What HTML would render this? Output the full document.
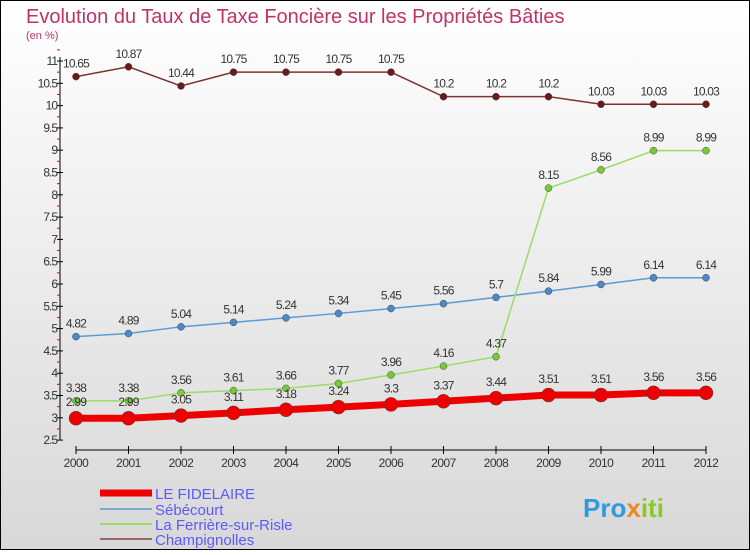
<!DOCTYPE html>
<html><head><meta charset="utf-8"><style>
body{margin:0}
#c{width:750px;height:550px;position:relative;font-family:"Liberation Sans",sans-serif}
</style></head><body>
<div id="c">
<svg id="s" width="750" height="550" xmlns="http://www.w3.org/2000/svg">
<defs><linearGradient id="bg" x1="0" y1="0" x2="0" y2="1"><stop offset="0" stop-color="#ffffff"/><stop offset="1" stop-color="#d8d8d8"/></linearGradient></defs>
<rect x="0.5" y="0.5" width="749" height="549" fill="url(#bg)" stroke="#000"/>
<text x="26" y="23" font-size="20" fill="#c0336a">Evolution du Taux de Taxe Foncière sur les Propriétés Bâties</text>
<text x="26" y="39" font-size="11" fill="#c0336a">(en %)</text>
<g id="axes"></g><g id="series"></g>
<g>
<line x1="100" y1="493" x2="152" y2="493" stroke="#e00" stroke-width="7"/>
<text x="155" y="499" font-size="15" fill="#5a5aff">LE FIDELAIRE</text>
<line x1="100" y1="509" x2="152" y2="509" stroke="#7aaad0" stroke-width="2"/>
<text x="155" y="515" font-size="15" fill="#5a5aff">Sébécourt</text>
<line x1="100" y1="524" x2="152" y2="524" stroke="#99dd66" stroke-width="2"/>
<text x="155" y="530" font-size="15" fill="#5a5aff">La Ferrière-sur-Risle</text>
<line x1="100" y1="539" x2="152" y2="539" stroke="#996666" stroke-width="2"/>
<text x="155" y="545" font-size="15" fill="#5a5aff">Champignolles</text>
</g>
<text x="583" y="517" font-size="26" font-weight="bold" fill="#3399dd">Pro<tspan fill="#ee8822">x</tspan><tspan fill="#88cc22">iti</tspan></text>
</svg>
</div>
<script>
const years=[2000,2001,2002,2003,2004,2005,2006,2007,2008,2009,2010,2011,2012];
const fidelaire=[2.99,2.99,3.05,3.11,3.18,3.24,3.3,3.37,3.44,3.51,3.51,3.56,3.56];
const sebecourt=[4.82,4.89,5.04,5.14,5.24,5.34,5.45,5.56,5.7,5.84,5.99,6.14,6.14];
const ferriere=[3.38,3.38,3.56,3.61,3.66,3.77,3.96,4.16,4.37,8.15,8.56,8.99,8.99];
const champignolles=[10.65,10.87,10.44,10.75,10.75,10.75,10.75,10.2,10.2,10.2,10.03,10.03,10.03];
const yTicks=[2.5,3,3.5,4,4.5,5,5.5,6,6.5,7,7.5,8,8.5,9,9.5,10,10.5,11];
const NS="http://www.w3.org/2000/svg";
const X=i=>76+i*52.5, Y=v=>417.8-(v-3)*44.6;
function mk(t,a,p){const e=document.createElementNS(NS,t);for(const k in a)e.setAttribute(k,a[k]);p.appendChild(e);return e;}
const ax=document.getElementById('axes'), sg=document.getElementById('series');
let l=mk('line',{x1:60,y1:Y(11)-4,x2:60,y2:Y(2.5),stroke:'#000'},ax);


yTicks.forEach(v=>{mk('line',{x1:57,y1:Y(v),x2:63,y2:Y(v),stroke:'#000'},ax);
 mk('line',{x1:57,y1:Y(v+0.25),x2:60,y2:Y(v+0.25),stroke:'#e00'},ax);
 const t=mk('text',{x:57,y:Y(v)+4,'font-size':12,'text-anchor':'end',fill:'#333','letter-spacing':'-1'},ax);t.textContent=String(v);
 
 });
l=mk('line',{x1:X(0),y1:450,x2:X(12),y2:450,stroke:'#000'},ax);


years.forEach((y,i)=>{mk('line',{x1:X(i),y1:446,x2:X(i),y2:454,stroke:'#000'},ax);
 const t=mk('text',{x:X(i),y:467,'font-size':12,'text-anchor':'middle',fill:'#333','letter-spacing':'-0.5'},ax);t.textContent=y;
 
 });
function series(d,name,col,w,r,dot,lab){
 const g=mk('g',{},sg);
 
 
 mk('polyline',{points:d.map((v,i)=>X(i)+','+Y(v)).join(' '),fill:'none',stroke:col,'stroke-width':w},g);
 d.forEach((v,i)=>{const c=mk('circle',{cx:X(i),cy:Y(v),r:r,fill:dot,stroke:'#444','stroke-width':0.5},g);
  
  
  const t=mk('text',{x:X(i),y:Y(v)-lab,'font-size':12,'text-anchor':'middle',fill:'#333','letter-spacing':'-0.8'},g);t.textContent=String(v);
  
  });
}
series(champignolles,'champignolles','#7a3333',1.5,3.5,'#6a1a1a',9);
series(sebecourt,'sebecourt','#5b9bd5',1.5,3.5,'#4a8ac8',9);
series(ferriere,'la-ferriere','#99dd66',1.5,3.5,'#77cc33',9);
series(fidelaire,'le-fidelaire','#ee0000',7,7,'#ee0000',12);
</script>
</body></html>
